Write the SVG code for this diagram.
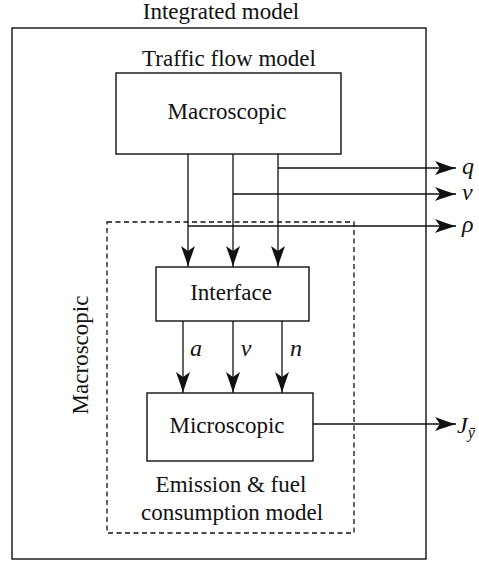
<svg xmlns="http://www.w3.org/2000/svg" width="479" height="563" viewBox="0 0 479 563">
<defs>
<marker id="arr" viewBox="-22 -8 23 16" refX="0" refY="0" markerWidth="23" markerHeight="16" markerUnits="userSpaceOnUse" orient="auto">
<path d="M0,0 C-6,-1.5 -14,-4.5 -21,-7 L-16,0 L-21,7 C-14,4.5 -6,1.5 0,0 Z" fill="#111"/>
</marker>
</defs>
<rect id="integrated" x="12" y="28" width="414" height="531" fill="none" stroke="#111" stroke-width="1.4"/>
<text x="221" y="19" text-anchor="middle" font-family="Liberation Serif, DejaVu Serif, serif" font-size="23" fill="#111">Integrated model</text>
<g id="emission">
<rect x="107" y="222" width="247" height="311" fill="none" stroke="#111" stroke-width="1.3" stroke-dasharray="5 3.5"/>
<text x="231" y="492" text-anchor="middle" font-family="Liberation Serif, DejaVu Serif, serif" font-size="23" fill="#111">Emission &amp; fuel</text>
<text x="232" y="520" text-anchor="middle" font-family="Liberation Serif, DejaVu Serif, serif" font-size="23" fill="#111">consumption model</text>
<text transform="translate(88,355) rotate(-90)" x="0" y="0" text-anchor="middle" font-family="Liberation Serif, DejaVu Serif, serif" font-size="23" fill="#111">Macroscopic</text>
</g>
<g id="connectors" fill="none" stroke="#111" stroke-width="1.3" marker-end="url(#arr)">
<line x1="188" y1="154" x2="188" y2="267"/>
<line x1="233" y1="154" x2="233" y2="267"/>
<line x1="278" y1="154" x2="278" y2="267"/>
<line x1="278" y1="168" x2="456" y2="168"/>
<line x1="233" y1="194" x2="456" y2="194"/>
<line x1="188" y1="226" x2="456" y2="226"/>
<line x1="183" y1="321" x2="183" y2="393"/>
<line x1="233" y1="321" x2="233" y2="393"/>
<line x1="282" y1="321" x2="282" y2="393"/>
<line x1="313" y1="424" x2="456" y2="424"/>
</g>
<g id="labels">
<text x="462" y="174" font-family="Liberation Serif, DejaVu Serif, serif" font-size="24" font-style="italic" fill="#111">q</text>
<text x="462" y="200" font-family="Liberation Serif, DejaVu Serif, serif" font-size="24" font-style="italic" fill="#111">v</text>
<text x="462" y="232" font-family="Liberation Serif, DejaVu Serif, serif" font-size="24" font-style="italic" fill="#111">ρ</text>
<text x="196" y="356" text-anchor="middle" font-family="Liberation Serif, DejaVu Serif, serif" font-size="24" font-style="italic" fill="#111">a</text>
<text x="246" y="356" text-anchor="middle" font-family="Liberation Serif, DejaVu Serif, serif" font-size="24" font-style="italic" fill="#111">v</text>
<text x="296" y="356" text-anchor="middle" font-family="Liberation Serif, DejaVu Serif, serif" font-size="24" font-style="italic" fill="#111">n</text>
<text x="457" y="433" font-family="Liberation Serif, DejaVu Serif, serif" font-size="24" font-style="italic" fill="#111">J<tspan font-size="16" dy="5">ȳ</tspan></text>
</g>
<g id="traffic">
<text x="229" y="66" text-anchor="middle" font-family="Liberation Serif, DejaVu Serif, serif" font-size="23" fill="#111">Traffic flow model</text>
<g id="macroscopic">
<rect x="116" y="73" width="225" height="81" fill="#fff" stroke="#111" stroke-width="1.4"/>
<text x="227" y="119" text-anchor="middle" font-family="Liberation Serif, DejaVu Serif, serif" font-size="23" fill="#111">Macroscopic</text>
</g>
</g>
<g id="interface">
<rect x="156" y="267" width="153" height="54" fill="#fff" stroke="#111" stroke-width="1.4"/>
<text x="231" y="300" text-anchor="middle" font-family="Liberation Serif, DejaVu Serif, serif" font-size="23" fill="#111">Interface</text>
</g>
<g id="microscopic">
<rect x="147" y="393" width="166" height="68" fill="#fff" stroke="#111" stroke-width="1.4"/>
<text x="227" y="433" text-anchor="middle" font-family="Liberation Serif, DejaVu Serif, serif" font-size="23" fill="#111">Microscopic</text>
</g>
</svg>
